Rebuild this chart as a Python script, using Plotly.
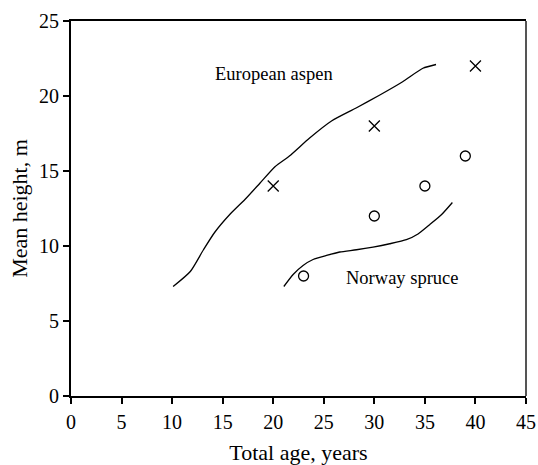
import plotly.graph_objects as go

# European aspen curve (total age, mean height)
aspen_age = [10.1, 11.8, 13.1, 14.2, 15.7, 17.2, 18.7, 20.2, 21.6, 23.6, 25.8, 28.2, 30.5, 32.8, 34.8, 36.1]
aspen_h = [7.3, 8.3, 9.75, 10.9, 12.1, 13.1, 14.2, 15.3, 16.0, 17.2, 18.35, 19.2, 20.05, 20.95, 21.85, 22.1]

# Norway spruce curve
spruce_age = [21.05, 21.97, 22.95, 23.94, 25.27, 26.58, 28.23, 29.87, 31.52, 33.17, 34.32, 35.47, 36.63, 37.72]
spruce_h = [7.3, 8.1, 8.7, 9.1, 9.37, 9.6, 9.75, 9.93, 10.15, 10.42, 10.8, 11.42, 12.08, 12.9]

# Observed points
aspen_pts_age = [20, 30, 40]
aspen_pts_h = [14, 18, 22]
spruce_pts_age = [23, 30, 35, 39]
spruce_pts_h = [8, 12, 14, 16]

x_ticks = [0, 5, 10, 15, 20, 25, 30, 35, 40, 45]
y_ticks = [0, 5, 10, 15, 20, 25]

FONT = "Liberation Serif"

fig = go.Figure()
fig.add_trace(go.Scatter(x=aspen_age, y=aspen_h, mode="lines",
                         line=dict(color="black", width=1.3, shape="spline", smoothing=0.6),
                         showlegend=False))
fig.add_trace(go.Scatter(x=spruce_age, y=spruce_h, mode="lines",
                         line=dict(color="black", width=1.3, shape="spline", smoothing=0.6),
                         showlegend=False))
fig.add_trace(go.Scatter(x=aspen_pts_age, y=aspen_pts_h, mode="markers",
                         marker=dict(symbol="x-thin-open", size=11, color="black",
                                     line=dict(color="black", width=1.3)),
                         showlegend=False))
fig.add_trace(go.Scatter(x=spruce_pts_age, y=spruce_pts_h, mode="markers",
                         marker=dict(symbol="circle-open", size=10, color="black",
                                     line=dict(color="black", width=1.3)),
                         showlegend=False))

fig.add_annotation(x=20.06, y=21.47, text="European aspen", showarrow=False,
                   font=dict(family=FONT, size=18.5, color="black"))
fig.add_annotation(x=32.78, y=7.87, text="Norway spruce", showarrow=False,
                   font=dict(family=FONT, size=18.5, color="black"))

# right frame edge (grey)
fig.add_shape(type="line", xref="paper", yref="paper", x0=1, x1=1, y0=0, y1=1,
              line=dict(color="#555555", width=2))

fig.update_layout(
    width=538, height=465,
    margin=dict(l=71, r=11.5, t=21, b=68.5, autoexpand=False),
    paper_bgcolor="white", plot_bgcolor="white",
    font=dict(family=FONT, color="black", size=20),
    xaxis=dict(range=[0, 45], tickvals=x_ticks, ticktext=[str(v) for v in x_ticks],
               showgrid=False, zeroline=False, showline=True, mirror=True,
               linecolor="black", linewidth=2, ticks="outside", ticklen=6,
               tickwidth=1.5, tickcolor="black", ticklabelstandoff=1,
               tickfont=dict(family=FONT, size=20), automargin=False,
               title=dict(text="Total age, years", font=dict(family=FONT, size=22), standoff=20)),
    yaxis=dict(range=[0, 25], tickvals=y_ticks, ticktext=[str(v) for v in y_ticks],
               showgrid=False, zeroline=False, showline=True, mirror=False,
               linecolor="black", linewidth=2, ticks="outside", ticklen=6,
               tickwidth=1.5, tickcolor="black", automargin=False,
               tickfont=dict(family=FONT, size=20),
               title=dict(text="Mean height, m", font=dict(family=FONT, size=22), standoff=5)),
)

fig.write_html("out.html")
